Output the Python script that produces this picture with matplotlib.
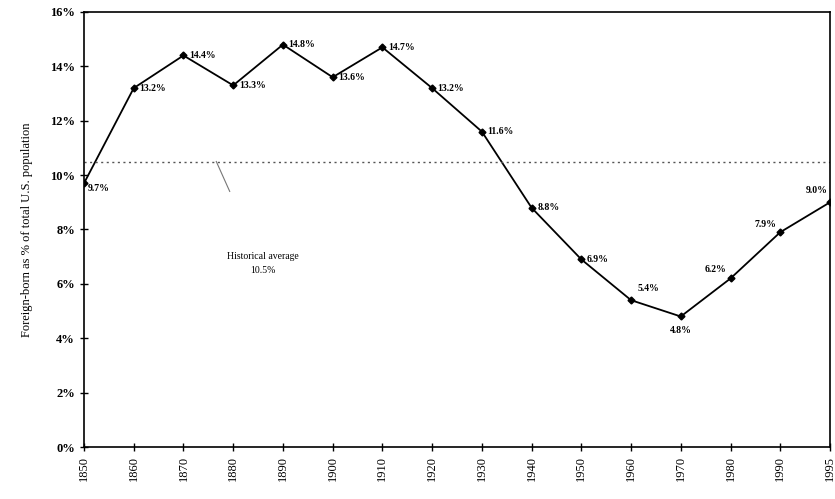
import matplotlib
matplotlib.use('Agg')
import matplotlib.pyplot as plt

years = ['1850', '1860', '1870', '1880', '1890', '1900', '1910', '1920',
         '1930', '1940', '1950', '1960', '1970', '1980', '1990', '1995']
share = [9.7, 13.2, 14.4, 13.3, 14.8, 13.6, 14.7, 13.2,
         11.6, 8.8, 6.9, 5.4, 4.8, 6.2, 7.9, 9.0]
avg = 10.5

# label placement per point: (dx points, dy points, ha, va)
offsets = {0: (3, -4, 'left', 'center'), 12: (0, -7, 'center', 'top'),
           11: (5, 5, 'left', 'bottom'), 13: (-3, 3, 'right', 'bottom'),
           14: (-3, 2, 'right', 'bottom'), 15: (-2, 5, 'right', 'bottom')}

plt.rcParams['font.family'] = ['Liberation Serif', 'DejaVu Serif']

fig = plt.figure(figsize=(8.35, 4.99), dpi=100)
ax = fig.add_axes([0.1006, 0.1042, 0.8934, 0.8718])

x = list(range(len(years)))
ax.plot(x, share, color='black', lw=1.3, marker='D', ms=3.5)
ax.axhline(avg, color='#555555', lw=1, ls=(0, (1.5, 2.5)))

for i, v in enumerate(share):
    dx, dy, ha, va = offsets.get(i, (4, 0, 'left', 'center'))
    ax.annotate(f'{v:.1f}%', (i, v), xytext=(dx, dy), textcoords='offset points',
                ha=ha, va=va, fontsize=7, fontweight='bold')

ax.text(3.6, 6.75, 'Historical average\n10.5%', ha='center', va='center',
        fontsize=7, linespacing=1.6)
ax.plot([2.66, 2.93], [10.5, 9.4], color='#777777', lw=0.8)

ax.set_xlim(0, 15)
ax.set_ylim(0, 16)
ax.set_xticks(x)
ax.set_xticklabels(years, rotation=90, fontsize=9)
ax.set_yticks(range(0, 17, 2))
ax.set_yticklabels([f'{t}%' for t in range(0, 17, 2)], fontsize=9, fontweight='bold')
ax.tick_params(direction='inout', length=6, width=1)
for s in ax.spines.values():
    s.set_linewidth(1.2)

ax.set_ylabel('Foreign-born as % of total U.S. population', fontsize=9, labelpad=12)

plt.savefig('out.png', dpi=100)
plt.close()
